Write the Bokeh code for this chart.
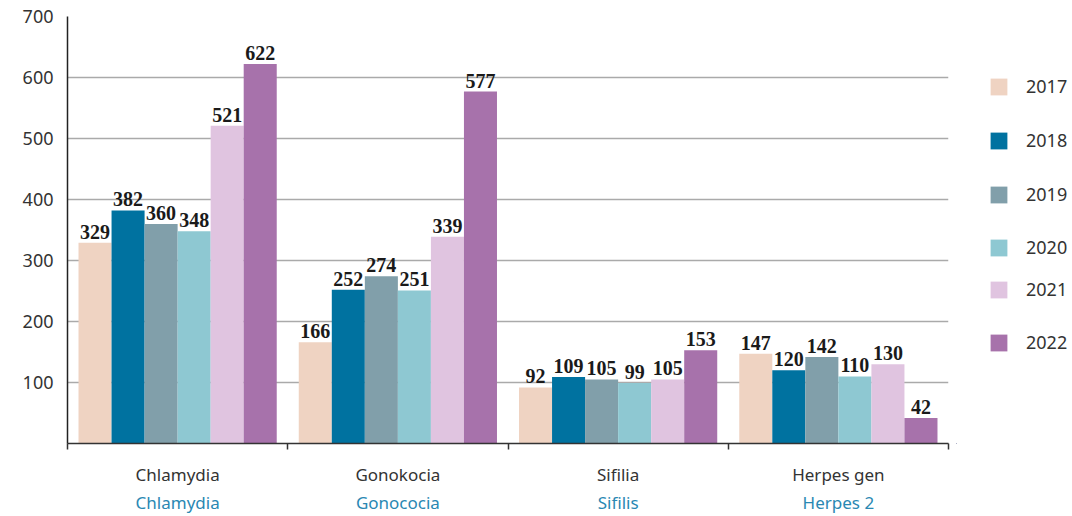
from bokeh.plotting import figure
from bokeh.layouts import row
from bokeh.models import (ColumnDataSource, Range1d, FixedTicker, Legend,
                          LegendItem, LinearAxis)
from bokeh.transform import dodge
from bokeh.core.properties import value
from bokeh.embed import file_html
from bokeh.resources import INLINE

categories = ["Chlamydia", "Gonokocia", "Sifilia", "Herpes gen"]
subtitles = ["Chlamydia", "Gonococia", "Sifilis", "Herpes 2"]
years = ["2017", "2018", "2019", "2020", "2021", "2022"]
v2017 = [329, 166, 92, 147]
v2018 = [382, 252, 109, 120]
v2019 = [360, 274, 105, 142]
v2020 = [348, 251, 99, 110]
v2021 = [521, 339, 105, 130]
v2022 = [622, 577, 153, 42]
colors = ["#efd3c2", "#0072a0", "#819faa", "#8ec8d2", "#e0c4e0", "#a772ab"]
y_ticks = [100, 200, 300, 400, 500, 600, 700]

series = [v2017, v2018, v2019, v2020, v2021, v2022]
centers = [i + 0.5 for i in range(len(categories))]
bounds = list(range(len(categories) + 1))
data = {"cat": categories, "pos": centers}
for y, s in zip(years, series):
    data["y" + y] = s
    data["t" + y] = [str(v) for v in s]
src = ColumnDataSource(data)

p = figure(x_range=Range1d(0, len(categories)), y_range=Range1d(0, 700), width=956, height=516,
           output_backend="svg", toolbar_location=None,
           min_border_left=67, min_border_right=8, min_border_top=16, min_border_bottom=71)
p.outline_line_color = None
p.background_fill_color = "white"

# y axis
yax = p.yaxis[0]
yax.ticker = FixedTicker(ticks=y_ticks)
yax.major_tick_line_color = None
yax.minor_tick_line_color = None
yax.axis_line_color = "#222222"
yax.axis_line_width = 1.5
yax.major_label_text_font = "Noto Sans"
yax.major_label_text_font_size = "18px"
yax.major_label_text_color = "#333333"
yax.major_label_standoff = 8
p.ygrid.ticker = FixedTicker(ticks=y_ticks)
p.ygrid.grid_line_color = "#aaaaaa"
p.ygrid.grid_line_width = 1.5
p.xgrid.visible = False

# bottom axis: category names at centres, minor ticks at group boundaries
xax = p.xaxis[0]
xax.ticker = FixedTicker(ticks=centers, minor_ticks=bounds)
xax.major_label_overrides = {c: n for c, n in zip(centers, categories)}
xax.axis_line_color = "#333333"
xax.axis_line_width = 1.5
xax.major_tick_line_color = None
xax.major_tick_in = 0
xax.major_tick_out = 0
xax.minor_tick_line_color = "#333333"
xax.minor_tick_line_width = 1.5
xax.minor_tick_in = 0
xax.minor_tick_out = 6
xax.major_label_standoff = 13
xax.major_label_text_font = "Noto Sans"
xax.major_label_text_font_size = "17px"
xax.major_label_text_color = "#333333"

# second line of category names (blue)
xax2 = LinearAxis(ticker=FixedTicker(ticks=centers))
xax2.major_label_overrides = {c: n for c, n in zip(centers, subtitles)}
xax2.axis_line_color = None
xax2.major_tick_line_color = None
xax2.minor_tick_line_color = None
xax2.major_tick_in = 0
xax2.major_tick_out = 0
xax2.major_label_standoff = 2
xax2.major_label_text_font = "Noto Sans"
xax2.major_label_text_font_size = "17px"
xax2.major_label_text_color = "#2a88b3"
p.add_layout(xax2, "below")

bw = 0.15
for i, (y, c) in enumerate(zip(years, colors)):
    off = (i - 2.5) * bw
    p.vbar(x=dodge("pos", off), top="y" + y, width=bw, source=src,
           fill_color=c, line_color=None)
    p.text(x=dodge("pos", off), y="y" + y, text="t" + y, source=src,
           text_align="center", text_baseline="bottom", y_offset=-4,
           text_font=value("Liberation Serif"), text_font_style="bold",
           text_font_size="20px", text_color="#1a1a1a")

# legend panel (separate figure so it is not clipped by the chart frame);
# its ranges keep the proxy bars out of view, only the legend swatches show
lf = figure(width=116, height=516, output_backend="svg", toolbar_location=None,
            x_range=Range1d(100, 101), y_range=Range1d(5000, 6000),
            min_border_left=0, min_border_right=0, min_border_top=16, min_border_bottom=71,
            x_axis_location=None, y_axis_location=None)
lf.outline_line_color = None
lf.xgrid.visible = False
lf.ygrid.visible = False
frame_bottom = 445
legend_centers = [89, 143, 197, 250, 292, 345]  # screen rows of the legend entries
for y, c, cy in zip(years, colors, legend_centers):
    r = lf.vbar(x="pos", top="y" + y, width=bw, source=src, fill_color=c, line_color=None)
    lg = Legend(items=[LegendItem(label=y, renderers=[r])],
                location=(32, frame_bottom - cy - 11),
                glyph_width=21, glyph_height=21, label_height=21, label_standoff=17,
                padding=0, margin=0, label_text_font="Noto Sans", label_text_font_size="18px",
                label_text_color="#333333", border_line_color=None, background_fill_alpha=0)
    lf.add_layout(lg, "center")

layout = row(p, lf)
open("out.html", "w").write(file_html(layout, INLINE))
